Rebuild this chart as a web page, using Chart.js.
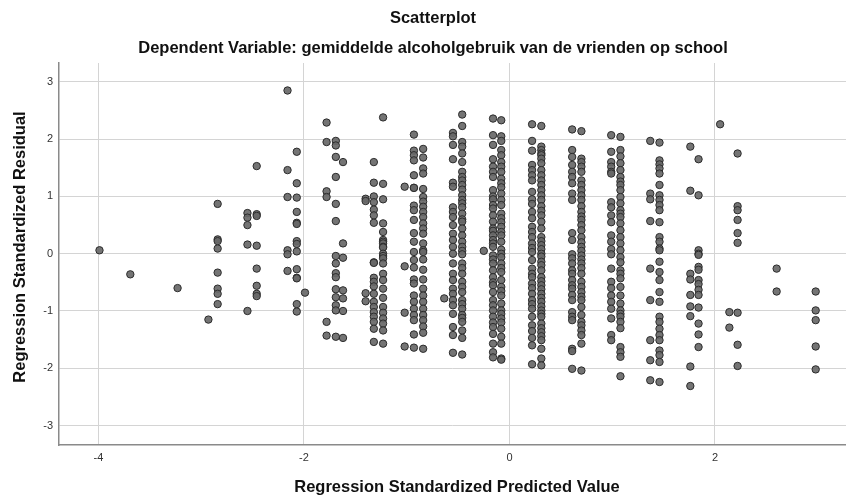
<!DOCTYPE html>
<html>
<head>
<meta charset="utf-8">
<script src="https://cdn.jsdelivr.net/npm/chart.js@4.4.1/dist/chart.umd.min.js"></script>
<style>
html,body{margin:0;padding:0;background:#fff;}
#wrap{width:846px;height:496px;}
</style>
</head>
<body>
<div id="wrap"><canvas id="c" width="846" height="496"></canvas></div>
<script>
// ---- Data ----
const chartTitle = "Scatterplot";
const chartSubtitle = "Dependent Variable: gemiddelde alcoholgebruik van de vrienden op school";
const xAxisTitle = "Regression Standardized Predicted Value";
const yAxisTitle = "Regression Standardized Residual";

const xTickValues = [-4, -2, 0, 2];
const yTickValues = [-3, -2, -1, 0, 1, 2, 3];

// predicted values (x) of each vertical column of points
const predicted = [-3.99, -3.69, -3.23, -2.93, -2.84, -2.55, -2.46, -2.16, -2.07, -1.99,
  -1.78, -1.69, -1.62, -1.40, -1.32, -1.23, -1.02, -0.93, -0.84, -0.635,
  -0.55, -0.46, -0.25, -0.16, -0.08, 0.22, 0.31, 0.61, 0.70, 0.99,
  1.08, 1.37, 1.46, 1.76, 1.84, 2.05, 2.14, 2.22, 2.60, 2.98];

// residuals (y) of the points in each column, same order as predicted
const residuals = [
  [0.06],
  [-0.36],
  [-0.60],
  [-1.15],
  [0.87, 0.25, 0.22, 0.09, -0.33, -0.61, -0.70, -0.88],
  [0.71, 0.63, 0.50, 0.16, -1.00],
  [1.53, 0.69, 0.66, 0.14, -0.26, -0.56, -0.70, -0.74],
  [2.85, 1.46, 0.99, 0.06, -0.01, -0.30],
  [1.78, 1.23, 0.98, 0.73, 0.54, 0.52, 0.22, 0.17, 0.04, -0.27, -0.42, -0.43, -0.88, -1.01],
  [-0.68],
  [2.29, 1.95, 1.09, 0.99, -1.19, -1.43],
  [1.97, 1.89, 1.69, 1.34, 0.87, 0.57, -0.04, -0.17, -0.34, -0.41, -0.62, -0.76, -0.90, -0.99, -1.45],
  [1.60, 0.18, -0.07, -0.64, -0.78, -1.00, -1.47],
  [0.96, 0.92, -0.69, -0.83],
  [1.60, 1.24, 1.00, 0.90, 0.77, 0.67, 0.54, -0.15, -0.16, -0.42, -0.49, -0.57, -0.70, -0.84, -0.93, -1.02, -1.10, -1.19, -1.31, -1.54],
  [2.38, 1.22, 0.95, 0.53, 0.38, 0.24, 0.21, 0.18, 0.12, 0.11, 0.00, -0.04, -0.08, -0.17, -0.35, -0.46, -0.61, -0.77, -0.93, -1.03, -1.13, -1.22, -1.34, -1.57],
  [1.17, -0.22, -1.03, -1.62],
  [2.08, 1.80, 1.72, 1.63, 1.37, 1.15, 1.15, 0.84, 0.76, 0.59, 0.36, 0.21, 0.03, -0.11, -0.24, -0.45, -0.52, -0.73, -0.84, -0.96, -1.07, -1.16, -1.41, -1.64],
  [1.83, 1.68, 1.49, 1.40, 1.13, 0.99, 0.91, 0.82, 0.73, 0.64, 0.53, 0.44, 0.35, 0.18, 0.06, 0.03, -0.10, -0.28, -0.45, -0.61, -0.73, -0.84, -0.96, -1.07, -1.16, -1.27, -1.38, -1.66],
  [-0.78],
  [2.11, 2.05, 1.90, 1.65, 1.24, 1.17, 0.81, 0.73, 0.64, 0.50, 0.35, 0.24, 0.12, 0.00, -0.17, -0.35, -0.46, -0.61, -0.70, -0.81, -0.90, -1.05, -1.28, -1.42, -1.73],
  [2.43, 2.23, 1.95, 1.87, 1.75, 1.60, 1.43, 1.34, 1.28, 1.20, 1.12, 1.02, 0.94, 0.88, 0.81, 0.70, 0.60, 0.56, 0.44, 0.32, 0.21, 0.12, 0.05, -0.01, -0.17, -0.25, -0.35, -0.49, -0.58, -0.67, -0.81, -0.88, -0.96, -1.07, -1.12, -1.19, -1.34, -1.47, -1.76],
  [0.05],
  [2.36, 2.07, 1.90, 1.65, 1.52, 1.43, 1.34, 1.11, 1.00, 0.95, 0.85, 0.79, 0.67, 0.56, 0.44, 0.40, 0.32, 0.24, 0.18, 0.12, -0.03, -0.10, -0.17, -0.29, -0.41, -0.50, -0.55, -0.67, -0.81, -0.90, -0.99, -1.10, -1.20, -1.28, -1.40, -1.57, -1.72, -1.81],
  [2.33, 2.05, 1.97, 1.81, 1.72, 1.60, 1.52, 1.43, 1.31, 1.23, 1.16, 1.05, 0.94, 0.85, 0.70, 0.62, 0.55, 0.47, 0.38, 0.32, 0.21, 0.07, 0.00, -0.06, -0.17, -0.25, -0.32, -0.46, -0.58, -0.65, -0.73, -0.87, -0.99, -1.05, -1.13, -1.20, -1.31, -1.45, -1.57, -1.83, -1.85],
  [2.26, 1.97, 1.80, 1.55, 1.46, 1.37, 1.28, 1.08, 0.95, 0.87, 0.73, 0.62, 0.47, 0.38, 0.29, 0.18, 0.10, 0.03, -0.11, -0.26, -0.35, -0.41, -0.52, -0.60, -0.70, -0.81, -0.88, -0.96, -1.10, -1.25, -1.35, -1.47, -1.60, -1.93],
  [2.23, 1.87, 1.81, 1.75, 1.72, 1.66, 1.58, 1.46, 1.37, 1.28, 1.20, 1.11, 1.02, 0.94, 0.83, 0.75, 0.67, 0.56, 0.44, 0.29, 0.22, 0.15, 0.08, 0.00, -0.05, -0.14, -0.20, -0.29, -0.41, -0.48, -0.55, -0.62, -0.70, -0.77, -0.84, -0.92, -0.99, -1.05, -1.10, -1.22, -1.30, -1.37, -1.44, -1.51, -1.66, -1.83, -1.95],
  [2.17, 1.81, 1.69, 1.55, 1.43, 1.34, 1.23, 1.05, 0.94, 0.36, 0.24, -0.01, -0.08, -0.17, -0.29, -0.35, -0.46, -0.55, -0.61, -0.72, -0.81, -1.02, -1.10, -1.16, -1.66, -1.70, -2.01],
  [2.14, 1.66, 1.60, 1.52, 1.43, 1.28, 1.20, 1.11, 1.02, 0.94, 0.83, 0.73, 0.65, 0.59, 0.50, 0.41, 0.29, 0.20, 0.12, 0.05, -0.03, -0.10, -0.17, -0.25, -0.35, -0.49, -0.58, -0.67, -0.75, -0.81, -0.93, -1.07, -1.19, -1.25, -1.34, -1.42, -1.57, -2.04],
  [2.07, 1.78, 1.60, 1.52, 1.43, 1.40, 0.90, 0.81, 0.67, 0.55, 0.32, 0.21, 0.08, -0.01, -0.26, -0.49, -0.60, -0.73, -0.84, -0.96, -1.13, -1.42, -1.51],
  [2.04, 1.81, 1.70, 1.58, 1.46, 1.34, 1.26, 1.20, 1.11, 0.99, 0.88, 0.76, 0.70, 0.64, 0.53, 0.41, 0.29, 0.18, 0.06, -0.06, -0.15, -0.29, -0.35, -0.43, -0.58, -0.73, -0.87, -0.99, -1.05, -1.10, -1.19, -1.30, -1.63, -1.72, -1.80, -2.14],
  [1.97, 1.05, 0.95, 0.57, -0.26, -0.81, -1.51, -1.86, -2.21],
  [1.94, 1.63, 1.56, 1.49, 1.40, 1.20, 1.02, 0.94, 0.85, 0.76, 0.55, 0.29, 0.21, 0.09, 0.06, -0.14, -0.32, -0.46, -0.67, -0.84, -1.10, -1.19, -1.31, -1.42, -1.51, -1.69, -1.77, -1.89, -2.24],
  [1.87, 1.10, -0.35, -0.45, -0.72, -0.92, -1.09, -1.97, -2.31],
  [1.65, 1.02, 0.06, 0.00, -0.02, -0.23, -0.28, -0.46, -0.53, -0.63, -0.72, -0.94, -1.22, -1.41, -1.63],
  [2.26],
  [-1.02, -1.29],
  [1.75, 0.83, 0.76, 0.59, 0.36, 0.19, -1.03, -1.59, -1.96],
  [-0.26, -0.66],
  [-0.66, -0.99, -1.16, -1.62, -2.02]
];

const xRange = [-4.384, 3.275];
const yRange = [-3.34, 3.33];

// ---- Build points ----
const points = [];
predicted.forEach((px, i) => {
  residuals[i].forEach(r => points.push({ x: px, y: r }));
});

const FONT = "'Liberation Sans', Arial, sans-serif";

const textPlugin = {
  id: 'texts',
  afterDraw(chart) {
    const ctx = chart.ctx;
    ctx.save();
    ctx.fillStyle = '#111';
    ctx.textAlign = 'center';
    ctx.textBaseline = 'middle';
    ctx.font = "bold 16.5px " + FONT;
    ctx.fillText(chartTitle, 433, 18);
    ctx.fillText(chartSubtitle, 433, 48);
    ctx.fillText(xAxisTitle, 457, 487);
    ctx.translate(20, 247);
    ctx.rotate(-Math.PI / 2);
    ctx.fillText(yAxisTitle, 0, 0);
    ctx.restore();
  }
};

new Chart(document.getElementById('c'), {
  type: 'scatter',
  data: {
    datasets: [{
      data: points,
      pointRadius: 3.7,
      pointHoverRadius: 3.7,
      pointBackgroundColor: 'rgba(104,104,104,0.92)',
      pointBorderColor: '#2b2b2b',
      pointBorderWidth: 1
    }]
  },
  options: {
    responsive: false,
    devicePixelRatio: 1,
    animation: false,
    layout: { autoPadding: false, padding: { top: 63, right: 0, bottom: 0, left: 0 } },
    plugins: { legend: { display: false }, tooltip: { enabled: false }, title: { display: false } },
    scales: {
      x: {
        type: 'linear',
        min: xRange[0], max: xRange[1],
        afterBuildTicks(s) { s.ticks = xTickValues.map(v => ({ value: v })); },
        afterFit(s) { s.height = 51; },
        grid: { color: '#d4d4d4', lineWidth: 1, drawTicks: false },
        border: { display: true, color: '#8a8a8a', width: 1.5 },
        ticks: { padding: 6, color: '#333', font: { family: FONT, size: 11 }, maxRotation: 0,
                 callback: v => String(v) }
      },
      y: {
        type: 'linear',
        min: yRange[0], max: yRange[1],
        afterBuildTicks(s) { s.ticks = yTickValues.map(v => ({ value: v })); },
        afterFit(s) { s.width = 59; },
        grid: { color: '#d4d4d4', lineWidth: 1, drawTicks: false },
        border: { display: true, color: '#8a8a8a', width: 1.5 },
        ticks: { padding: 6, color: '#333', font: { family: FONT, size: 11 },
                 callback: v => String(v) }
      }
    }
  },
  plugins: [textPlugin]
});
</script>
</body>
</html>
